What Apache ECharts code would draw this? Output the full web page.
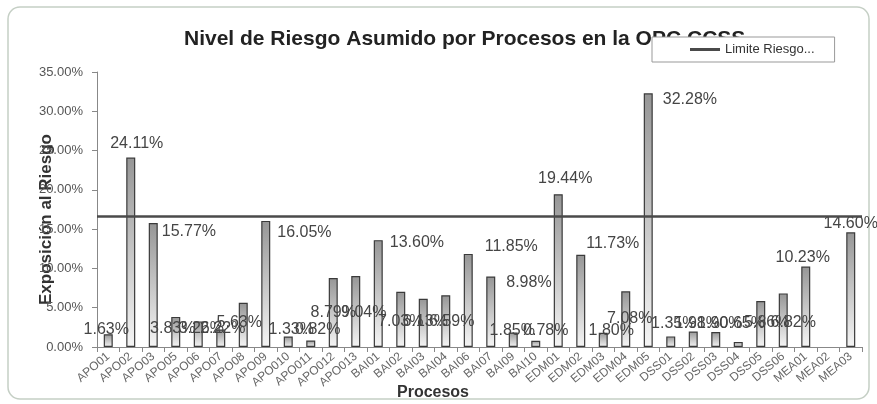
<!DOCTYPE html>
<html><head><meta charset="utf-8">
<script src="https://cdn.jsdelivr.net/npm/echarts@6/dist/echarts.min.js"></script>
<style>html,body{margin:0;padding:0;background:#fff}#c{width:877px;height:404px}</style>
</head><body><div id="c"></div>
<script>
const categories = ['APO01','APO02','APO03','APO05','APO06','APO07','APO08','APO09','APO010','APO011','APO012','APO013',
  'BAI01','BAI02','BAI03','BAI04','BAI06','BAI07','BAI09','BAI10',
  'EDM01','EDM02','EDM03','EDM04','EDM05',
  'DSS01','DSS02','DSS03','DSS04','DSS05','DSS06',
  'MEA01','MEA02','MEA03'];
const riesgo = [1.63, 24.11, 15.77, 3.83, 3.26, 2.22, 5.63, 16.05, 1.33, 0.82, 8.79, 9.04,
  13.60, 7.03, 6.13, 6.59, 11.85, 8.98, 1.85, 0.78,
  19.44, 11.73, 1.80, 7.08, 32.28,
  1.35, 1.98, 1.90, 0.65, 5.86, 6.82,
  10.23, null, 14.60];
const limiteRiesgo = 16.67;
const yMin = 0, yMax = 35, yStep = 5;

// label placement per bar (style only): [kind, dx, value]
const labelLayout = [
  ['base',-2,17], ['top',6,6], ['rt',4,9], ['base',-3,18], ['base',3,18], ['base',2,18], ['base',-4,24], ['rt',7,12],
  ['base',3,17], ['base',7,17], ['base',0,34], ['base',8,34],
  ['rt',7,2], ['base',0,25], ['base',2,25], ['base',6,25], ['rt',12,-7], ['rt',11,6], ['base',-1,16], ['base',10,16],
  ['top',7,8], ['rt',1,-11], ['base',8,16], ['base',4,28], ['rt',10,6],
  ['base',3,23], ['base',4,23], ['base',4,23], ['base',4,23], ['base',6,24], ['base',10,24],
  ['top',-3,1], null, ['top',0,1]
];
function labelFor(spec){
  if(!spec) return {show:false};
  const [k,dx,v] = spec;
  if(k==='top') return {show:true, position:'top', distance:v, offset:[dx,0]};
  if(k==='rt') return {show:true, position:['100%','0%'], align:'left', verticalAlign:'middle', offset:[dx,v]};
  return {show:true, position:['50%','100%'], align:'center', verticalAlign:'middle', offset:[dx,-v]};
}
const FONT = 'Liberation Sans, Arial, sans-serif';
const LINE = '#4a4a4a';
const chart = echarts.init(document.getElementById('c'));
chart.setOption({
  animation:false,
  backgroundColor:'#fff',
  textStyle:{fontFamily:FONT},
  graphic:[{type:'rect', z:-10, shape:{x:8,y:7,width:861,height:392,r:12}, style:{fill:'none', stroke:'#c5cfc5', lineWidth:1.5}}],
  title:{text:'Nivel de Riesgo Asumido por Procesos en la OPC CCSS', left:179, top:24, z:2,
    textStyle:{fontSize:21, fontWeight:'bold', color:'#222', fontFamily:FONT}},
  legend:{left:652, top:37, z:20, padding:[6,20,6,38], borderColor:'#999', borderWidth:1, backgroundColor:'#fff',
    itemWidth:30, itemHeight:3,
    data:[{name:'Limite Riesgo...', icon:'rect', itemStyle:{color:LINE, borderWidth:0}}],
    textStyle:{fontSize:13, color:'#333', fontFamily:FONT}},
  grid:{left:97, right:15, top:72, bottom:57, containLabel:false, outerBoundsMode:'none'},
  xAxis:{type:'category', data:categories,
    axisLine:{lineStyle:{color:'#888', width:1}},
    axisTick:{show:true, length:5, lineStyle:{color:'#888'}},
    axisLabel:{interval:0, rotate:40, fontSize:12, color:'#666', margin:8, fontFamily:FONT},
    name:'Procesos', nameLocation:'middle', nameGap:38, nameMoveOverlap:false,
    nameTextStyle:{fontSize:16, fontWeight:'bold', color:'#333', padding:[0,93,0,0], fontFamily:FONT}},
  yAxis:{type:'value', min:yMin, max:yMax, interval:yStep,
    axisLine:{show:true, lineStyle:{color:'#888'}},
    axisTick:{show:true, length:5, lineStyle:{color:'#888'}},
    splitLine:{show:false},
    axisLabel:{formatter:v=>v.toFixed(2)+'%', fontSize:13, color:'#555', margin:14, fontFamily:FONT},
    name:'Exposición al Riesgo', nameLocation:'middle', nameGap:42, nameMoveOverlap:false,
    nameTextStyle:{fontSize:17, fontWeight:'bold', color:'#333', padding:[0,20,0,0], fontFamily:FONT}},
  series:[
    {type:'bar', name:'Riesgo', barWidth:9,
     data: riesgo.map((v,i)=>({value:v, label:labelFor(labelLayout[i])})),
     itemStyle:{color:new echarts.graphic.LinearGradient(0,0,0,1,[{offset:0,color:'#969696'},{offset:1,color:'#f5f5f5'}]),
       borderColor:'#3a3a3a', borderWidth:1.2},
     label:{fontSize:16, color:'#454545', fontFamily:FONT, formatter:p=>p.value.toFixed(2)+'%'}},
    {type:'line', name:'Limite Riesgo...', data:categories.map(()=>null), symbol:'none', color:LINE,
     lineStyle:{color:LINE, width:2.5},
     markLine:{silent:true, symbol:['none','none'], label:{show:false},
       lineStyle:{color:LINE, width:2.5, type:'solid'}, data:[{yAxis:limiteRiesgo}]}}
  ]
});
</script></body></html>
